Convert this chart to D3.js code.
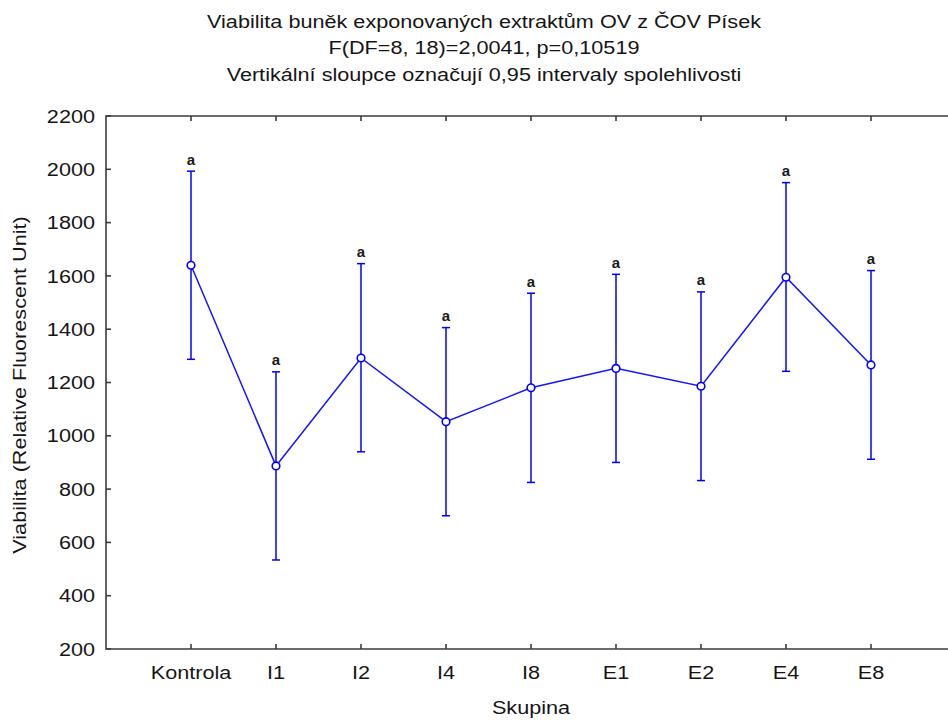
<!DOCTYPE html>
<html>
<head>
<meta charset="utf-8">
<script src="https://cdn.jsdelivr.net/npm/d3@7"></script>
<style>
  html, body { margin: 0; padding: 0; background: #fff; }
  svg { display: block; font-family: "Liberation Sans", Arial, sans-serif; }
</style>
</head>
<body>
<svg id="chart" width="948" height="722"></svg>
<script>
// Group names and group means with 0.95 confidence limits
const groups = ["Kontrola", "I1", "I2", "I4", "I8", "E1", "E2", "E4", "E8"];
const means  = [1640, 887, 1292, 1053, 1180, 1253, 1186, 1595, 1266];
const lower  = [1287, 534, 940, 700, 825, 900, 832, 1242, 912];
const upper  = [1993, 1240, 1646, 1406, 1535, 1606, 1540, 1950, 1620];
const letters = ["a", "a", "a", "a", "a", "a", "a", "a", "a"];
const yTicks = [200, 400, 600, 800, 1000, 1200, 1400, 1600, 1800, 2000, 2200];

const titleLines = [
  "Viabilita buněk exponovaných extraktům OV z ČOV Písek",
  "F(DF=8, 18)=2,0041, p=0,10519",
  "Vertikální sloupce označují 0,95 intervaly spolehlivosti"
];

const svg = d3.select("#chart");
const plot = { left: 106, top: 116, bottom: 649, right: 956 };
const axisColor = "#3c3c3c";
const markColor = "#1414ff";
const textColor = "#151515";
const fontSize = 18.5;
const stretch = 1.17;   // wide text rendering

// Category positions: one empty slot before the first and after the last group
const x = d3.scalePoint()
  .domain(["_pre", ...groups, "_post"])
  .range([plot.left, plot.right]);

const y = d3.scaleLinear()
  .domain([200, 2200])
  .range([plot.bottom, plot.top]);

// Places a horizontally widened label at (px, py), optionally rotated
function label(g, data, px, py, anchor, rot = 0) {
  return g.selectAll(null)
    .data(data)
    .join("text")
    .attr("transform", (d, i) =>
      `translate(${px(d, i)},${py(d, i)}) rotate(${rot}) scale(${stretch},1)`)
    .attr("text-anchor", anchor)
    .attr("font-size", fontSize)
    .attr("fill", textColor)
    .text(d => d);
}

// Title
label(svg.append("g"), titleLines, () => 484, (d, i) => 27.5 + i * 26.8, "middle");

// Frame with inward ticks
const frame = svg.append("g").attr("stroke", axisColor).attr("stroke-width", 1.6).attr("fill", "none");
frame.append("path")
  .attr("d", `M${plot.right},${plot.top}H${plot.left}V${plot.bottom}H${plot.right}V${plot.top}`);

const tickLen = 5;
frame.selectAll(".yt")
  .data(yTicks)
  .join("line")
  .attr("x1", plot.left).attr("x2", plot.left + tickLen)
  .attr("y1", d => y(d)).attr("y2", d => y(d));
frame.selectAll(".xb")
  .data(groups)
  .join("line")
  .attr("x1", d => x(d)).attr("x2", d => x(d))
  .attr("y1", plot.bottom).attr("y2", plot.bottom - tickLen);
frame.selectAll(".xt")
  .data(groups)
  .join("line")
  .attr("x1", d => x(d)).attr("x2", d => x(d))
  .attr("y1", plot.top).attr("y2", plot.top + tickLen);

// Tick labels
label(svg.append("g"), yTicks, () => 95, d => y(d) + 6.6, "end");
label(svg.append("g"), groups, d => x(d), () => 679, "middle");

// Axis titles
label(svg.append("g"), ["Skupina"], () => 531, () => 714, "middle");
label(svg.append("g"), ["Viabilita (Relative Fluorescent Unit)"], () => 25.5, () => 385, "middle", -90);

const rows = groups.map((g, i) => ({ g, m: means[i], lo: lower[i], hi: upper[i], l: letters[i] }));

// Confidence interval whiskers
const err = svg.append("g").attr("stroke", "#0000ff").attr("stroke-width", 1.5);
err.selectAll(".v")
  .data(rows)
  .join("line")
  .attr("x1", d => x(d.g)).attr("x2", d => x(d.g))
  .attr("y1", d => y(d.lo)).attr("y2", d => y(d.hi));
err.selectAll(".ch")
  .data(rows)
  .join("line")
  .attr("x1", d => x(d.g) - 4).attr("x2", d => x(d.g) + 4)
  .attr("y1", d => y(d.hi)).attr("y2", d => y(d.hi));
err.selectAll(".cl")
  .data(rows)
  .join("line")
  .attr("x1", d => x(d.g) - 4).attr("x2", d => x(d.g) + 4)
  .attr("y1", d => y(d.lo)).attr("y2", d => y(d.lo));

// Line through the means
svg.append("path")
  .datum(rows)
  .attr("fill", "none")
  .attr("stroke", markColor)
  .attr("stroke-width", 1.5)
  .attr("d", d3.line().x(d => x(d.g)).y(d => y(d.m)));

// Mean markers
svg.append("g").selectAll("circle")
  .data(rows)
  .join("circle")
  .attr("cx", d => x(d.g))
  .attr("cy", d => y(d.m))
  .attr("r", 3.8)
  .attr("fill", "#fff")
  .attr("stroke", "#0000ff")
  .attr("stroke-width", 1.6);

// Homogeneous group letters
svg.append("g").selectAll("text")
  .data(rows)
  .join("text")
  .attr("x", d => x(d.g))
  .attr("y", d => y(d.hi) - 6.5)
  .attr("text-anchor", "middle")
  .attr("font-size", 15)
  .attr("font-weight", "bold")
  .attr("fill", "#1a1a1a")
  .text(d => d.l);
</script>
</body>
</html>
